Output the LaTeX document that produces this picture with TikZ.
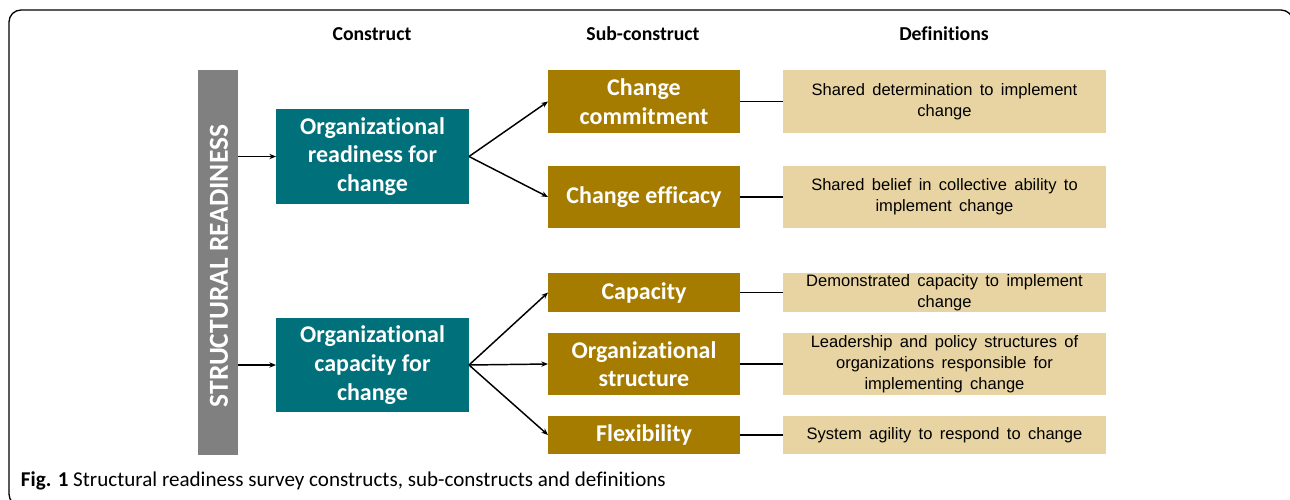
\documentclass[tikz,border=0pt]{standalone}
\usepackage{fontspec}
\setmainfont{Carlito}[Ligatures=NoCommon]
\newfontfamily\deffont{Liberation Sans}[WordSpace={1.6,1,1}]
\usetikzlibrary{arrows.meta}
\definecolor{tealbox}{RGB}{0,112,122}
\definecolor{goldbox}{RGB}{166,124,0}
\definecolor{defbox}{RGB}{232,212,162}
\definecolor{bargray}{RGB}{128,128,128}
\begin{document}
\begin{tikzpicture}[x=0.75pt,y=-0.75pt,
  every node/.style={inner sep=0pt, outer sep=0pt},
  construct/.style={fill=tealbox, text=white, align=center,
    font=\fontsize{18}{21.5}\selectfont\bfseries,
    minimum width=193*0.75pt},
  subbox/.style={fill=goldbox, text=white, align=center,
    font=\fontsize{18}{21.5}\selectfont\bfseries,
    minimum width=192*0.75pt},
  defn/.style={fill=defbox, text=black, align=center,
    font=\deffont\fontsize{12.4}{15.8}\selectfont,
    minimum width=323*0.75pt},
  header/.style={font=\fontsize{14.8}{17}\selectfont\bfseries},
  arr/.style={-{Stealth[length=5pt,width=4pt]}, line width=1.1pt},
  link/.style={line width=1.4pt}
]
\useasboundingbox (0,0) rectangle (1290,500);
% outer frame
\draw[line width=1pt, rounded corners=9pt] (9,10) rectangle (1293,506);

% column headers
\node[header] (hc) at (372,34) {Construct};
\node[header] (hs) at (643,34) {Sub-construct};
\node[header] (hd) at (944,34) {Definitions};

% vertical bar
\node[fill=bargray, minimum width=40*0.75pt, minimum height=385*0.75pt] (bar) at (218,262.5) {};
\node[rotate=90, text=white, font=\fontsize{20.6}{23}\selectfont\bfseries] (bartext) at (219,266) {STRUCTURAL READINESS};

% constructs
\node[construct, minimum height=95*0.75pt] (c1) at (372.5,156.5) {Organizational\\readiness for\\change};
\node[construct, minimum height=94*0.75pt] (c2) at (372.5,365) {Organizational\\capacity for\\change};

% sub-constructs
\node[subbox, minimum height=63*0.75pt] (s1) at (644,101.5) {Change\\commitment};
\node[subbox, minimum height=62*0.75pt] (s2) at (644,197) {Change efficacy};
\node[subbox, minimum height=39*0.75pt] (s3) at (644,292.5) {Capacity};
\node[subbox, minimum height=62*0.75pt] (s4) at (644,364) {Organizational\\structure};
\node[subbox, minimum height=38*0.75pt] (s5) at (644,435) {Flexibility};

% definitions
\node[defn, minimum height=63*0.75pt] (d1) at (944.5,101.5) {Shared determination to implement\\change};
\node[defn, minimum height=62*0.75pt] (d2) at (944.5,197) {Shared belief in collective ability to\\implement change};
\node[defn, minimum height=39*0.75pt] (d3) at (944.5,292.5) {Demonstrated capacity to implement\\change};
\node[defn, minimum height=62*0.75pt] (d4) at (944.5,364) {Leadership and policy structures of\\organizations responsible for\\implementing change};
\node[defn, minimum height=38*0.75pt] (d5) at (944.5,435) {System agility to respond to change};

% connectors
\draw[arr] (bar.east |- c1.west) -- (c1.west);
\draw[arr] (bar.east |- c2.west) -- (c2.west);
\draw[arr] (c1.east) -- (s1.west);
\draw[arr] (c1.east) -- (s2.west);
\draw[arr] (c2.east) -- (s3.west);
\draw[arr] (c2.east) -- (s4.west);
\draw[arr] (c2.east) -- (s5.west);
\foreach \i in {1,...,5} \draw[link] (s\i.east) -- (d\i.west);

% caption
\node[anchor=west, font=\fontsize{15.8}{18}\selectfont] (cap) at (21,481)
  {\textbf{Fig. 1} Structural readiness survey constructs, sub-constructs and definitions};
\end{tikzpicture}
\end{document}
